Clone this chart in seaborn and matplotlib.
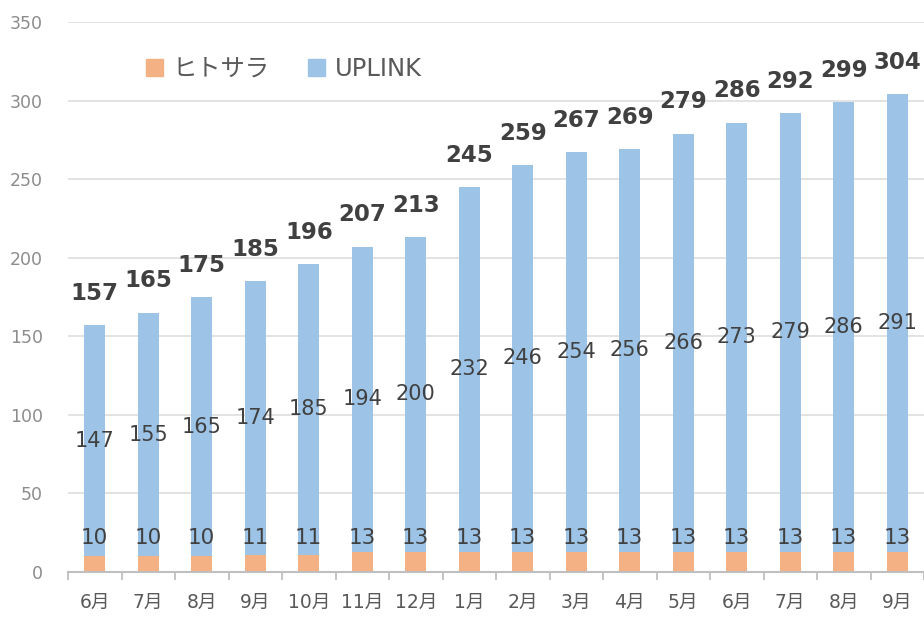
import numpy as np
import pandas as pd
import seaborn as sns
import matplotlib.pyplot as plt
from matplotlib.patches import Patch

months = ['6月', '7月', '8月', '9月', '10月', '11月', '12月', '1月',
          '2月', '3月', '4月', '5月', '6月', '7月', '8月', '9月']
hitosara = [10, 10, 10, 11, 11, 13, 13, 13, 13, 13, 13, 13, 13, 13, 13, 13]
uplink = [147, 155, 165, 174, 185, 194, 200, 232, 246, 254, 256, 266, 273, 279, 286, 291]
totals = [157, 165, 175, 185, 196, 207, 213, 245, 259, 267, 269, 279, 286, 292, 299, 304]

orange = '#F4B183'
blue = '#9DC3E6'
text_dark = '#404040'

sns.set_theme(style='white')
plt.rcParams['font.family'] = ['DejaVu Sans', 'Noto Sans CJK JP']

df = pd.DataFrame({'idx': np.arange(len(months)), 'hitosara': hitosara,
                   'uplink': uplink, 'total': totals})

fig = plt.figure(figsize=(9.24, 6.17), dpi=100)
ax = fig.add_axes([0.0736, 0.0729, 0.9264, 0.8914])

# stacked look: full total in blue, orange drawn over the bottom part
sns.barplot(data=df, x='idx', y='total', color=blue, saturation=1, width=0.39,
            linewidth=0, ax=ax)
sns.barplot(data=df, x='idx', y='hitosara', color=orange, saturation=1, width=0.39,
            linewidth=0, ax=ax)

for i, row in df.iterrows():
    ax.text(i, row['total'] + 13, str(row['total']), ha='center', va='bottom',
            fontsize=16.5, fontweight='bold', color=text_dark)
    ax.text(i, (row['hitosara'] + row['total']) / 2, str(row['uplink']), ha='center',
            va='center', fontsize=15, color=text_dark)
    ax.text(i, 21.5, str(row['hitosara']), ha='center', va='center',
            fontsize=15.5, color=text_dark)

ax.set_ylim(0, 350)
ax.set_xlim(-0.5, len(months) - 0.5)
ax.set_yticks(range(0, 351, 50))
ax.yaxis.grid(True, color='#E0E0E0', linewidth=1.3)
ax.set_axisbelow(True)
ax.set_xticks(range(len(months)))
ax.set_xticklabels(months)
ax.set_xticks(np.arange(-0.5, len(months), 1), minor=True)
ax.tick_params(axis='x', which='major', bottom=False, length=0, pad=15,
               labelsize=13.5, labelcolor='#595959')
ax.tick_params(axis='x', which='minor', bottom=True, length=6, width=1.3,
               color='#BFBFBF', direction='out')
ax.tick_params(axis='y', length=0, pad=18, labelsize=12.5, labelcolor='#8C8C8C')
ax.set_xlabel('')
ax.set_ylabel('')
for side in ['left', 'right', 'top']:
    ax.spines[side].set_visible(False)
ax.spines['bottom'].set_color('#BFBFBF')
ax.spines['bottom'].set_linewidth(1.5)

handles = [Patch(color=orange, label='ヒトサラ'), Patch(color=blue, label='UPLINK')]
ax.legend(handles=handles, loc='center', bbox_to_anchor=(0.252, 0.915), ncol=2,
          frameon=False, fontsize=17.5, handlelength=0.7, handleheight=0.7,
          handletextpad=0.4, columnspacing=1.6, labelcolor='#595959')

fig.savefig('out.png', dpi=100)
